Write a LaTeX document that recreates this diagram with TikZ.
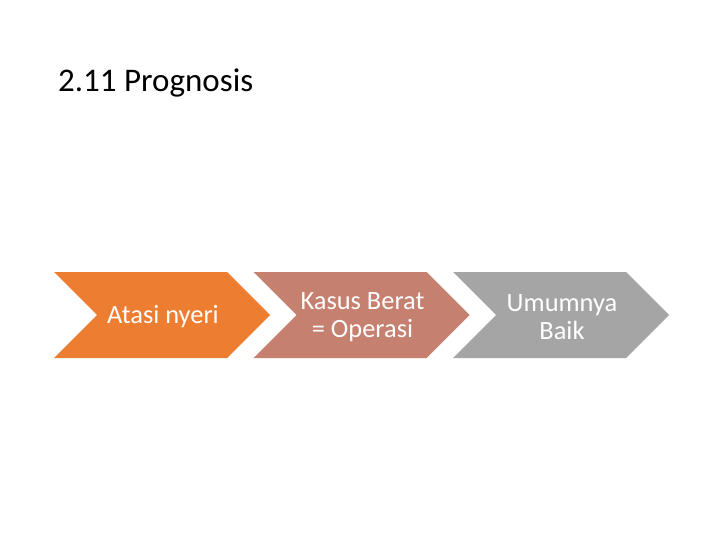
\documentclass[tikz,border=0pt]{standalone}
\usepackage{fontspec}
\setmainfont{Carlito}
\usetikzlibrary{positioning}
\definecolor{chevA}{HTML}{ED7D31}
\definecolor{chevB}{HTML}{C5806F}
\definecolor{chevC}{HTML}{A5A5A5}

\begin{document}
\begin{tikzpicture}[x=1pt,y=-1pt,
  chevtext/.style={text=white,font=\fontsize{26.4}{28}\selectfont,align=center,inner sep=0pt}]
  \useasboundingbox (0,0) rectangle (720,540);
  % chevron size: width, height, point depth
  \pgfmathsetmacro{\Cw}{216}
  \pgfmathsetmacro{\Cd}{43}
  \pgfmathsetmacro{\Cs}{\Cw-\Cd}

  \node (title) [anchor=base west,inner sep=0pt,font=\fontsize{33}{40}\selectfont] at (58,92) {2.11 Prognosis};

  \foreach \i/\col/\name/\txt in {0/chevA/atasi/{Atasi nyeri},
      1/chevB/kasus/{Kasus Berat\\= Operasi},
      2/chevC/umum/{Umumnya\\Baik}} {
    \pgfmathsetmacro{\xl}{54+199.5*\i}
    \fill [\col] (\xl,272) -- ++(\Cs,0) -- ++(\Cd,\Cd) -- ++(-\Cd,\Cd)
      -- ++(-\Cs,0) -- ++(\Cd,-\Cd) -- cycle;
    \node (\name) [chevtext] at (\xl+109,317) {\txt};
  }
\end{tikzpicture}
\end{document}
